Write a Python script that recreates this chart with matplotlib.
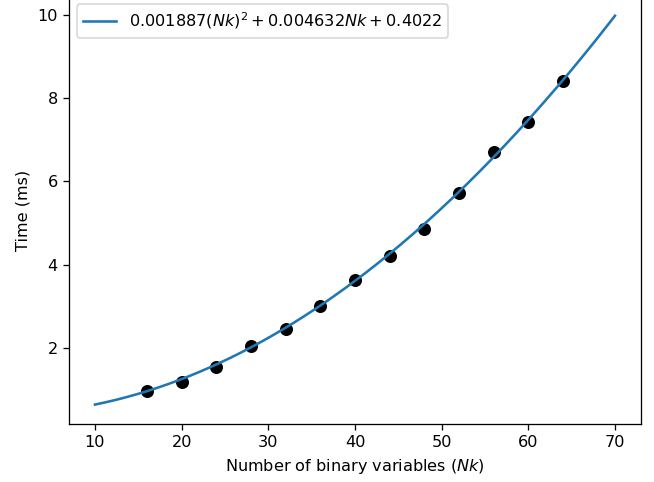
import numpy as np
import matplotlib
matplotlib.use("Agg")
import matplotlib.pyplot as plt

# measured points
nk = [16, 20, 24, 28, 32, 36, 40, 44, 48, 52, 56, 60, 64]
time_ms = [0.97, 1.18, 1.55, 2.05, 2.45, 3.01, 3.63, 4.20, 4.86, 5.72, 6.70, 7.43, 8.41]

# quadratic fit coefficients (from legend)
fit_coef = [0.001887, 0.004632, 0.4022]
fit_range = [10, 70]

dpi = 116
fig = plt.figure(figsize=(654 / dpi, 482 / dpi), dpi=dpi)
ax = fig.add_axes([0.1055, 0.1203, 0.8746, 0.8874])

ax.scatter(nk, time_ms, color='black', s=50)

xs = np.linspace(fit_range[0], fit_range[1], 200)
label = r'$%g(Nk)^2 + %gNk + %g$' % tuple(fit_coef)
ax.plot(xs, np.polyval(fit_coef, xs), color='C0', lw=1.6, label=label)

ax.set_xlabel('Number of binary variables ($Nk$)')
ax.set_ylabel('Time (ms)')
ax.legend(loc='upper left')

fig.savefig('out.png', dpi=dpi)
